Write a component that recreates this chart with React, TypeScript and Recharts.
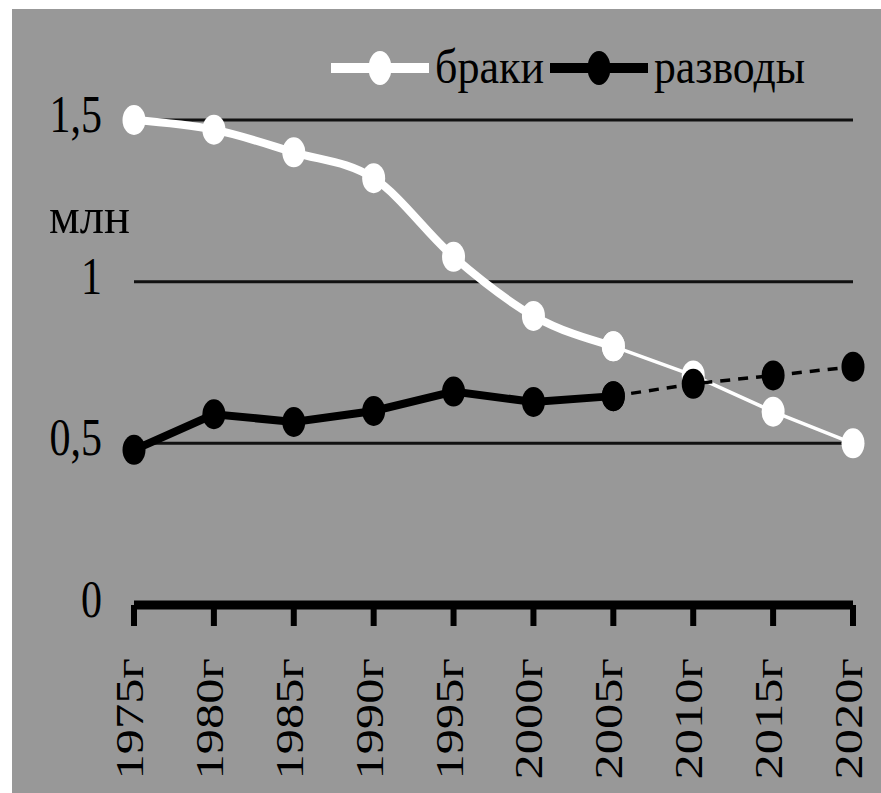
import React from 'react';
import { LineChart, Line, XAxis, YAxis, CartesianGrid, Legend, Label } from 'recharts';

// годы и значения, млн
const years = ['1975г', '1980г', '1985г', '1990г', '1995г', '2000г', '2005г', '2010г', '2015г', '2020г'];
const marriages = [1.5, 1.47, 1.4, 1.32, 1.077, 0.894, 0.8, 0.71, 0.598, 0.5];
const divorces = [0.48, 0.59, 0.566, 0.6, 0.66, 0.628, 0.646, 0.684, 0.71, 0.737];
const yTicks = [0, 0.5, 1, 1.5];
const seriesNames = ['браки', 'разводы'];
const lastActual = '2005г';

const splitAt = years.indexOf(lastActual);

// fact part is solid/thick, forecast part is thin/dashed
const data = years.map((year, i) => ({
  year,
  marFact: i <= splitAt ? marriages[i] : null,
  marProg: i >= splitAt ? marriages[i] : null,
  divFact: i <= splitAt ? divorces[i] : null,
  divProg: i >= splitAt ? divorces[i] : null,
}));

const FONT = '"Liberation Serif", "Times New Roman", serif';
const BG = '#989898';

const makeDot = (fill) => (props) => {
  const { cx, cy, index, value } = props;
  if (cx == null || cy == null || value == null) return null;
  return <ellipse key={`dot-${fill}-${index}`} cx={cx} cy={cy} rx={11.5} ry={15} fill={fill} />;
};

const YearTick = ({ x, y, payload }) => (
  <g transform={`translate(${x},${y})`}>
    <text
      transform="rotate(-90) scale(1.26,1)"
      x={-30 / 1.26}
      y={9}
      textAnchor="end"
      fontFamily={FONT}
      fontSize={40}
      fill="#000"
    >
      {payload.value}
    </text>
  </g>
);

const ValueTick = ({ x, y, payload }) => (
  <g transform={`translate(${x - 32},${y + 12}) scale(1,1.25)`}>
    <text textAnchor="end" fontFamily={FONT} fontSize={42} fill="#000">
      {String(payload.value).replace('.', ',')}
    </text>
  </g>
);

const UnitLabel = ({ viewBox }) => (
  <g transform={`translate(${viewBox.x + 25},${viewBox.y + 113}) scale(1,1.2)`}>
    <text fontFamily={FONT} fontSize={42} fill="#000" textLength={81} lengthAdjust="spacingAndGlyphs">
      млн
    </text>
  </g>
);

const textWidths = [109, 151];

const renderLegend = ({ payload }) => {
  let cursor = 319;
  const entries = (payload || []).filter((e) => seriesNames.includes(e.value));
  const items = entries.map((entry, i) => {
    const x0 = cursor;
    const lineLen = 98;
    const tx = x0 + lineLen + 6;
    cursor = tx + textWidths[i] + 6;
    return (
      <g key={entry.value}>
        <line x1={x0} x2={x0 + lineLen} y1={59} y2={59} stroke={entry.color} strokeWidth={10} />
        <ellipse cx={x0 + lineLen / 2} cy={59} rx={11.5} ry={17} fill={entry.color} />
        <g transform={`translate(${tx},74) scale(1,1.13)`}>
          <text
            fontFamily={FONT}
            fontSize={43}
            fill="#000"
            textLength={textWidths[i]}
            lengthAdjust="spacingAndGlyphs"
          >
            {entry.value}
          </text>
        </g>
      </g>
    );
  });
  return (
    <svg width={869} height={110} style={{ overflow: 'visible', display: 'block' }}>
      {items}
    </svg>
  );
};

export default function App() {
  return (
    <div style={{ position: 'absolute', left: 0, top: 0, width: 881, height: 793, background: '#fff' }}>
      <div style={{ position: 'absolute', left: 12, top: 9, width: 869, height: 784, background: BG }}>
        <LineChart width={869} height={784} data={data} margin={{ top: 111, right: 28, bottom: 48, left: 12 }}>
          <CartesianGrid vertical={false} stroke="#111" strokeWidth={3} />
          <XAxis
            dataKey="year"
            height={140}
            padding={{ left: 0, right: 0 }}
            axisLine={{ stroke: '#000', strokeWidth: 9 }}
            tickLine={{ stroke: '#000', strokeWidth: 6 }}
            tickSize={21}
            tickMargin={2}
            interval={0}
            tick={<YearTick />}
          />
          <YAxis
            width={110}
            domain={[0, 1.5]}
            ticks={yTicks}
            axisLine={false}
            tickLine={false}
            tickSize={0}
            tickMargin={0}
            tick={<ValueTick />}
          >
            <Label content={<UnitLabel />} />
          </YAxis>
          <Legend
            layout="horizontal"
            verticalAlign="middle"
            align="center"
            wrapperStyle={{ left: 0, top: 0, width: 869, height: 110 }}
            content={renderLegend}
          />
          <Line
            type="monotone"
            dataKey="marFact"
            name="браки"
            stroke="#fff"
            strokeWidth={8}
            dot={makeDot('#fff')}
            isAnimationActive={false}
          />
          <Line
            type="linear"
            dataKey="marProg"
            name="браки прогноз"
            legendType="none"
            stroke="#fff"
            strokeWidth={3.5}
            dot={makeDot('#fff')}
            isAnimationActive={false}
          />
          <Line
            type="linear"
            dataKey="divFact"
            name="разводы"
            stroke="#000"
            strokeWidth={8}
            dot={makeDot('#000')}
            isAnimationActive={false}
          />
          <Line
            type="linear"
            dataKey="divProg"
            name="разводы прогноз"
            legendType="none"
            stroke="#000"
            strokeWidth={3.5}
            strokeDasharray="10 8"
            dot={makeDot('#000')}
            isAnimationActive={false}
          />
        </LineChart>
      </div>
    </div>
  );
}
